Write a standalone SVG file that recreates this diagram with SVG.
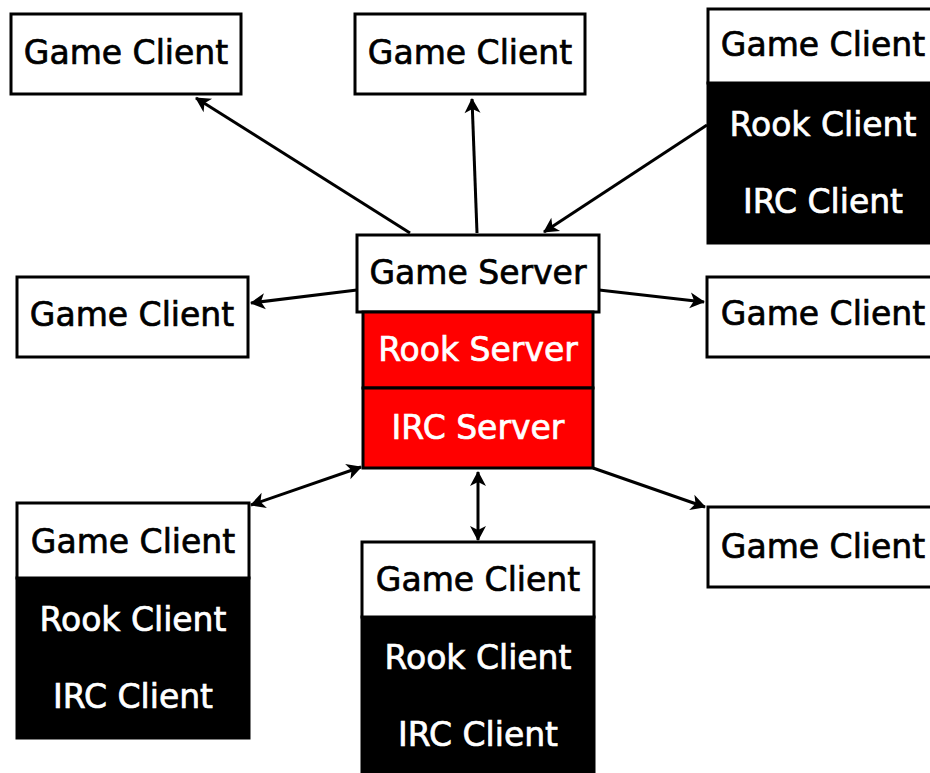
<svg xmlns="http://www.w3.org/2000/svg" width="930" height="773" viewBox="0 0 930 773">
<style>
.box{fill:#fff;stroke:#000;stroke-width:3}
.blk{fill:#000;stroke:#000;stroke-width:3}
.red{fill:#f00;stroke:#000;stroke-width:3}
text{font-family:"DejaVu Sans",Verdana,sans-serif;font-size:33px;text-anchor:middle;stroke-width:0.7px}
.w{fill:#fff;stroke:#fff}
.k{fill:#000;stroke:#000}
.c{stroke:#000;stroke-width:3;fill:none}
</style>
<defs>
<marker id="ah" viewBox="-16 -9 18 18" refX="0" refY="0" markerWidth="18" markerHeight="18" markerUnits="userSpaceOnUse" orient="auto-start-reverse">
<path d="M1,0 L-14,-8 L-10,0 L-14,8 Z" fill="#000"/>
</marker>
</defs>
<g id="connectors">
<line class="c" x1="410" y1="233" x2="196" y2="98" marker-end="url(#ah)"/>
<line class="c" x1="477" y1="233" x2="472" y2="99" marker-end="url(#ah)"/>
<line class="c" x1="707" y1="125" x2="544" y2="232" marker-end="url(#ah)"/>
<line class="c" x1="357" y1="290" x2="251" y2="303" marker-end="url(#ah)"/>
<line class="c" x1="599" y1="290" x2="704" y2="302" marker-end="url(#ah)"/>
<line class="c" x1="251" y1="505" x2="361" y2="467" marker-start="url(#ah)" marker-end="url(#ah)"/>
<line class="c" x1="478" y1="472" x2="478" y2="540" marker-start="url(#ah)" marker-end="url(#ah)"/>
<line class="c" x1="593" y1="468" x2="705" y2="507" marker-end="url(#ah)"/>
</g>
<g id="server">
<rect class="box" x="357" y="235" width="242" height="77"/>
<text class="k" x="478" y="284">Game Server</text>
<rect class="red" x="363" y="312" width="230" height="76"/>
<text class="w" x="478" y="361">Rook Server</text>
<rect class="red" x="363" y="388" width="230" height="80"/>
<text class="w" x="478" y="439">IRC Server</text>
</g>
<g id="client-top-left">
<rect class="box" x="11" y="14" width="230" height="80"/>
<text class="k" x="126" y="64">Game Client</text>
</g>
<g id="client-top-middle">
<rect class="box" x="355" y="14" width="230" height="80"/>
<text class="k" x="470" y="64">Game Client</text>
</g>
<g id="client-top-right">
<rect class="blk" x="708" y="83" width="230" height="160"/>
<rect class="box" x="708" y="9" width="230" height="74"/>
<text class="k" x="823" y="56">Game Client</text>
<text class="w" x="823" y="136">Rook Client</text>
<text class="w" x="823" y="213">IRC Client</text>
</g>
<g id="client-mid-left">
<rect class="box" x="17" y="277" width="231" height="80"/>
<text class="k" x="132" y="326">Game Client</text>
</g>
<g id="client-mid-right">
<rect class="box" x="707" y="277" width="231" height="80"/>
<text class="k" x="823" y="325">Game Client</text>
</g>
<g id="client-bottom-left">
<rect class="blk" x="17" y="578" width="232" height="160"/>
<rect class="box" x="17" y="503" width="232" height="75"/>
<text class="k" x="133" y="553">Game Client</text>
<text class="w" x="133" y="631">Rook Client</text>
<text class="w" x="133" y="708">IRC Client</text>
</g>
<g id="client-bottom-middle">
<rect class="blk" x="362" y="617" width="232" height="170"/>
<rect class="box" x="362" y="542" width="232" height="75"/>
<text class="k" x="478" y="591">Game Client</text>
<text class="w" x="478" y="669">Rook Client</text>
<text class="w" x="478" y="746">IRC Client</text>
</g>
<g id="client-bottom-right">
<rect class="box" x="708" y="507" width="230" height="80"/>
<text class="k" x="823" y="558">Game Client</text>
</g>
</svg>
